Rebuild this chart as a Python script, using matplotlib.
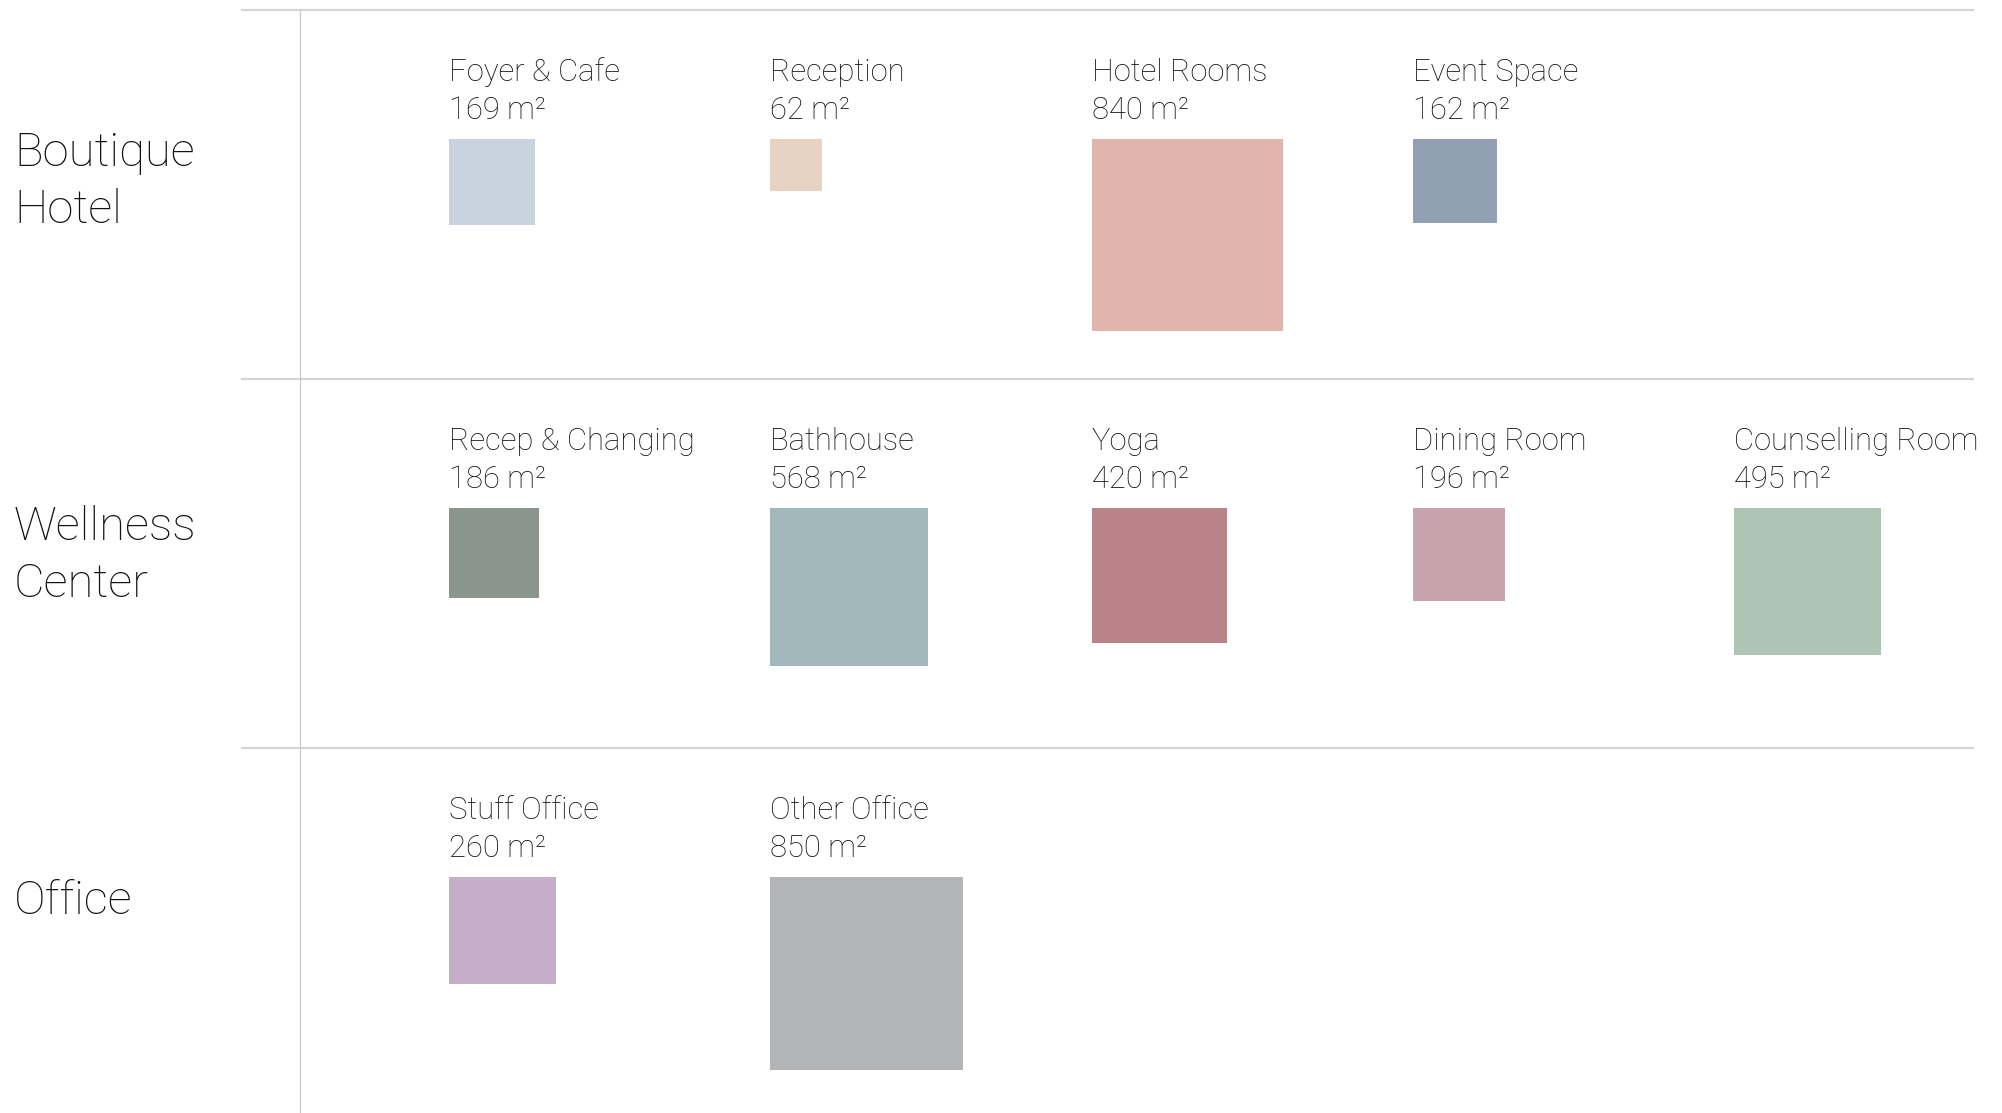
import numpy as np
import matplotlib.pyplot as plt
from matplotlib.patches import Rectangle

# Programme data: one row per building, area in square metres
groups = ['Boutique Hotel', 'Wellness Center', 'Office']

hotel_spaces = ['Foyer & Cafe', 'Reception', 'Hotel Rooms', 'Event Space']
hotel_areas = [169, 62, 840, 162]
hotel_colors = ['#C9D3DF', '#E8D3C2', '#E0B6AC', '#91A0B3']

wellness_spaces = ['Recep & Changing', 'Bathhouse', 'Yoga', 'Dining Room', 'Counselling Room']
wellness_areas = [186, 568, 420, 196, 495]
wellness_colors = ['#89958D', '#A0B8B9', '#BA8388', '#C8A2AC', '#AEC5B5']

office_spaces = ['Stuff Office', 'Other Office']
office_areas = [260, 850]
office_colors = ['#C4AEC9', '#B3B4B5']

rows = [
    (hotel_spaces, hotel_areas, hotel_colors),
    (wellness_spaces, wellness_areas, wellness_colors),
    (office_spaces, office_areas, office_colors),
]

W, H = 2002, 1113
fig = plt.figure(figsize=(W / 100, H / 100), dpi=100)
ax = fig.add_axes([0, 0, 1, 1])
ax.set_xlim(0, W)
ax.set_ylim(H, 0)
ax.axis('off')

font = 'Roboto'
txt_color = '#111111'
row_h = 369
col_w = 321.3
x0 = 449
scale = 6.61  # pixels per sqrt(m2)

# separators
for r in range(3):
    ax.plot([241, 1974], [10 + r * row_h] * 2, color='#D4D4D4', lw=1.6, solid_capstyle='butt')
ax.plot([300, 300], [10, H], color='#C4C4C4', lw=0.8)

# row labels
label_base = [166, 540, 914]
for r, name in enumerate(groups):
    lines = name.split(' ') if r < 2 else [name]
    for k, line in enumerate(lines):
        ax.text(14, label_base[r] + k * 57, line, fontsize=34, family=font,
                fontweight='light', color=txt_color, va='baseline', ha='left')

for r, (spaces, areas, colors) in enumerate(rows):
    y_off = r * row_h
    for i, (sp, a, c) in enumerate(zip(spaces, areas, colors)):
        x = x0 + i * col_w
        ax.text(x, 81 + y_off, sp, fontsize=22.3, family=font, fontweight='light',
                color=txt_color, va='baseline', ha='left')
        ax.text(x, 119 + y_off, f'{a} m\u00b2', fontsize=22.3, family=font,
                fontweight='light', color=txt_color, va='baseline', ha='left')
        s = scale * np.sqrt(a)
        ax.add_patch(Rectangle((x, 139 + y_off), s, s, facecolor=c, edgecolor='none'))

fig.savefig('out.png', dpi=100, facecolor='white')
